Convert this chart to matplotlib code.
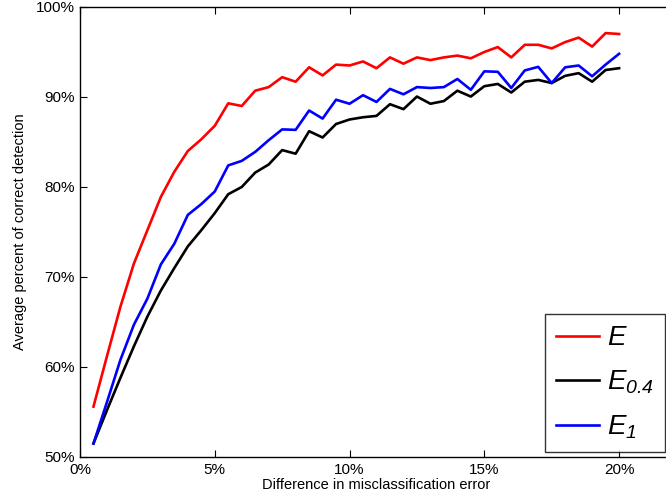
import numpy as np
import matplotlib.pyplot as plt
from matplotlib.ticker import FuncFormatter

plt.rcParams['font.family'] = ['Liberation Sans', 'DejaVu Sans']
# mathtext is only used by the legend labels, which are all italic
plt.rcParams['mathtext.fontset'] = 'custom'
plt.rcParams['mathtext.rm'] = 'Liberation Sans:italic'
plt.rcParams['mathtext.it'] = 'Liberation Sans:italic'

# Data (x in fraction, y in percent)
diff = np.arange(1, 41) * 0.005

acc_e = [55.6, 61.2, 66.7, 71.5, 75.2, 78.9, 81.7, 84.0, 85.3, 86.8,
         89.3, 89.0, 90.7, 91.1, 92.2, 91.7, 93.3, 92.4, 93.6, 93.5,
         93.95, 93.2, 94.4, 93.7, 94.4, 94.1, 94.4, 94.6, 94.3, 95.0,
         95.55, 94.4, 95.8, 95.8, 95.4, 96.1, 96.6, 95.6, 97.1, 97.0]

acc_e04 = [51.5, 55.2, 58.8, 62.3, 65.6, 68.5, 71.0, 73.4, 75.2, 77.1,
           79.2, 80.0, 81.6, 82.5, 84.1, 83.7, 86.2, 85.5, 87.0, 87.5,
           87.75, 87.9, 89.2, 88.65, 90.05, 89.25, 89.55, 90.7, 90.05, 91.2,
           91.45, 90.5, 91.7, 91.9, 91.55, 92.35, 92.65, 91.7, 93.0, 93.2]

acc_e1 = [51.5, 56.1, 60.8, 64.7, 67.6, 71.4, 73.7, 76.9, 78.1, 79.5,
          82.4, 82.9, 83.9, 85.2, 86.4, 86.35, 88.5, 87.6, 89.7, 89.25,
          90.2, 89.45, 90.9, 90.3, 91.1, 91.0, 91.1, 92.0, 90.8, 92.85,
          92.8, 91.0, 92.95, 93.35, 91.55, 93.3, 93.5, 92.3, 93.6, 94.8]

fig = plt.figure(figsize=(6.66, 4.99), dpi=100)
ax = fig.add_axes([80 / 666, 42 / 499, 593 / 666, 450 / 499])

ax.plot(diff, acc_e, color='#ff0000', lw=1.9, label=r'$E$')
ax.plot(diff, acc_e04, color='#000000', lw=1.9, label=r'$E_{0.4}$')
ax.plot(diff, acc_e1, color='#0000ff', lw=1.9, label=r'$E_{1}$')

ax.set_xlim(0, 0.22)
ax.set_ylim(50, 100)
ax.set_xticks([0, 0.05, 0.10, 0.15, 0.20])
ax.set_yticks([50, 60, 70, 80, 90, 100])
ax.xaxis.set_major_formatter(FuncFormatter(lambda v, p: '%d%%' % round(v * 100)))
ax.yaxis.set_major_formatter(FuncFormatter(lambda v, p: '%d%%' % v))
ax.tick_params(direction='in', top=True, right=False, labelsize=11, length=5, pad=4)
for s in ax.spines.values():
    s.set_linewidth(1.0)

ax.set_xlabel('Difference in misclassification error', fontsize=10.5, labelpad=1)
ax.set_ylabel('Average percent of correct detection', fontsize=10.5, labelpad=6)

leg = ax.legend(loc='upper right', bbox_to_anchor=(665 / 666, 1 - 314.3 / 499),
                bbox_transform=fig.transFigure, fontsize=20, frameon=True,
                fancybox=False, handlelength=1.55, handletextpad=0.3,
                labelspacing=0.62, borderpad=0.4, borderaxespad=0)
leg.get_frame().set_edgecolor('black')
leg.get_frame().set_linewidth(1.0)

fig.savefig('out.png', dpi=100)
